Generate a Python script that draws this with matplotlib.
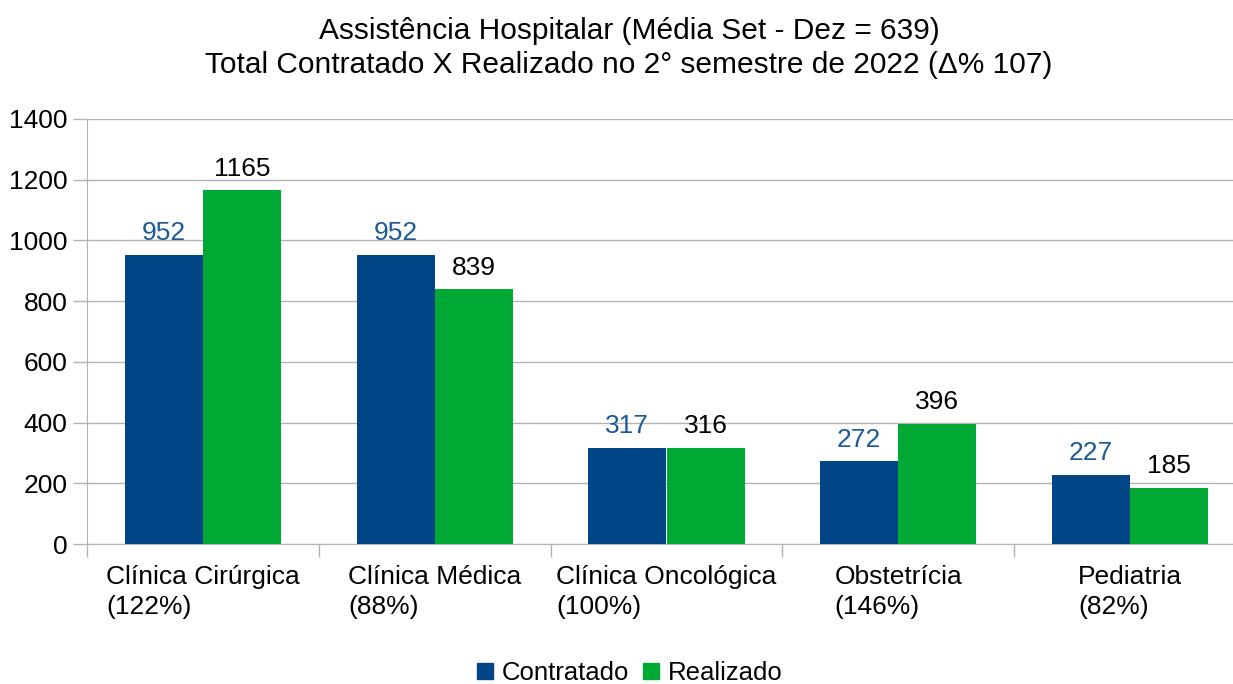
import numpy as np
import matplotlib.pyplot as plt
from matplotlib.lines import Line2D

plt.rcParams['font.family'] = ['Liberation Sans', 'DejaVu Sans']

categories = ['Clínica Cirúrgica\n(122%)', 'Clínica Médica\n(88%)',
              'Clínica Oncológica\n(100%)', 'Obstetrícia\n(146%)', 'Pediatria\n(82%)']
contratado = [952, 952, 317, 272, 227]
realizado = [1165, 839, 316, 396, 185]

c_blue = '#004586'
c_green = '#00a933'
grid_c = '#b3b3b3'
fs = 19

W, H = 1233, 684
fig = plt.figure(figsize=(W / 100, H / 100), dpi=100)
ax = fig.add_axes([87 / W, (H - 544) / H, (1246 - 87) / W, (544 - 119) / H])

x = np.arange(len(categories))
bw = 0.337
b1 = ax.bar(x - bw / 2, contratado, bw, color=c_blue, zorder=3)
b2 = ax.bar(x + bw / 2, realizado, bw, color=c_green, zorder=3)

for rect, v in zip(b1, contratado):
    ax.annotate(str(v), (rect.get_x() + rect.get_width() / 2, v), xytext=(0, 7),
                textcoords='offset points', ha='center', va='bottom',
                fontsize=fs, color='#1c5a96')
for rect, v in zip(b2, realizado):
    ax.annotate(str(v), (rect.get_x() + rect.get_width() / 2, v), xytext=(0, 7),
                textcoords='offset points', ha='center', va='bottom',
                fontsize=fs, color='black')

ax.set_xlim(-0.5, len(categories) - 0.5)
ax.set_ylim(0, 1400)
ax.set_yticks(np.arange(0, 1401, 200))
ax.yaxis.grid(True, color=grid_c, linewidth=1, zorder=0)
ax.tick_params(axis='y', length=10, width=1, color=grid_c, labelsize=fs, pad=4)

ax.set_xticks(x)
ax.set_xticklabels(categories, fontsize=fs, ha='center', multialignment='left',
                   linespacing=1.35)
ax.set_xticks(np.arange(-0.5, len(categories), 1), minor=True)
ax.tick_params(axis='x', which='major', length=0, pad=15)
ax.tick_params(axis='x', which='minor', length=9, width=1, color=grid_c)

for s in ['top', 'right']:
    ax.spines[s].set_visible(False)
for s in ['left', 'bottom']:
    ax.spines[s].set_color(grid_c)

fig.text(629 / W, 1 - 39 / H, 'Assistência Hospitalar (Média Set - Dez = 639)',
         ha='center', va='baseline', fontsize=21.5)
fig.text(629 / W, 1 - 73 / H, 'Total Contratado X Realizado no 2° semestre de 2022 (Δ% 107)',
         ha='center', va='baseline', fontsize=21.5)

handles = [Line2D([], [], marker='s', linestyle='', color=c_blue, markersize=11.5),
           Line2D([], [], marker='s', linestyle='', color=c_green, markersize=11.5)]
fig.legend(handles, ['Contratado', 'Realizado'], loc='center', bbox_to_anchor=(628 / W, 1 - 673 / H),
           ncol=2, frameon=False, fontsize=18.5, handletextpad=0.2, columnspacing=0.4,
           handlelength=0.9)

fig.savefig('out.png', dpi=100)
